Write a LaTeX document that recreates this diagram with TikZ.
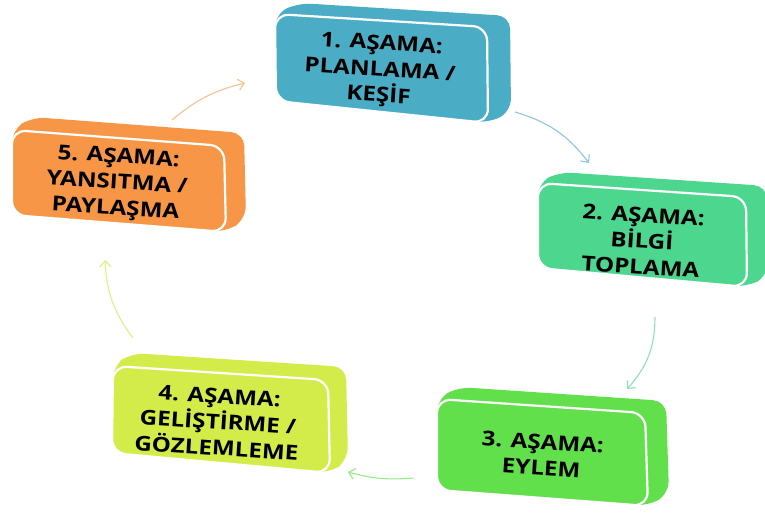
\documentclass[tikz,border=0pt]{standalone}
\usepackage{fontspec}
\setmainfont{Open Sans}
\usetikzlibrary{calc,arrows.meta}

\definecolor{cAqua}{RGB}{75,172,198}
\definecolor{cMint}{RGB}{76,214,142}
\definecolor{cLime}{RGB}{98,224,76}
\definecolor{cYell}{RGB}{212,236,74}
\definecolor{cOrng}{RGB}{247,150,70}

% Draws one extruded stage block: side faces behind, framed front face on top.
% #1 colour, #2..#5 front corners (TL, TR, BR, BL), #6 depth offset
\newcommand\stageblock[6]{%
  \fill[#1, rounded corners=13pt]
    (#2) -- ($(#2)+(#6)$) -- ($(#3)+(#6)$) -- ($(#4)+(#6)$) -- (#4) -- (#5) -- cycle;
  \filldraw[fill=#1, draw=white, line width=2.2pt, rounded corners=14pt]
    (#2) -- (#3) -- (#4) -- (#5) -- cycle;
}

\tikzset{
  stagetext/.style={align=center, text=black, inner sep=0pt,
    font=\fontsize{20.5}{26}\selectfont\bfseries, rotate=-3.6, xscale=1.18},
  cyclearrow/.style={line width=1.1pt,
    -{Straight Barb[length=6pt,width=11pt,line width=1.1pt]}},
}

\begin{document}
\begin{tikzpicture}[x=1pt,y=-1pt]
\useasboundingbox (0,0) rectangle (765,518);

% stage blocks
\stageblock{cAqua}{275,14}{487,27}{488,123}{276,101}{23,-11}
\stageblock{cMint}{538,183}{746,197}{747,287}{538,268}{21,-11}
\stageblock{cLime}{437,399}{645,413}{648,506}{437,490}{21,-12}
\stageblock{cYell}{113,366}{328,380}{330,473}{112,453}{18,-13}
\stageblock{cOrng}{12,130}{224,146}{226,232}{12,215}{20,-13}

% stage labels
\node[stagetext] (s1) at (380,71)  {1. AŞAMA:\\PLANLAMA /\\KEŞİF};
\node[stagetext] (s2) at (642,241) {2. AŞAMA:\\BİLGİ\\TOPLAMA};
\node[stagetext] (s3) at (542,455) {3. AŞAMA:\\EYLEM};
\node[stagetext] (s4) at (218,422) {4. AŞAMA:\\GELİŞTİRME /\\GÖZLEMLEME};
\node[stagetext] (s5) at (117,184) {5. AŞAMA:\\YANSITMA /\\PAYLAŞMA};

% arrow end points
\coordinate (a1) at (515,112); \coordinate (b1) at (589,163);
\coordinate (a2) at (655,317); \coordinate (b2) at (627,389);
\coordinate (a3) at (413,478); \coordinate (b3) at (348,472);
\coordinate (a4) at (133,338); \coordinate (b4) at (105,260);
\coordinate (a5) at (172,120); \coordinate (b5) at (245,83);

% cycle arrows
\draw[cyclearrow, color={rgb,255:red,140;green,200;blue,222}] (a1) to[bend left=18] (b1);
\draw[cyclearrow, color={rgb,255:red,140;green,226;blue,178}] (a2) to[bend left=21] (b2);
\draw[cyclearrow, color={rgb,255:red,150;green,234;blue,136}] (a3) to[bend left=10] (b3);
\draw[cyclearrow, color={rgb,255:red,220;green,242;blue,130}] (a4) to[bend left=17] (b4);
\draw[cyclearrow, color={rgb,255:red,250;green,192;blue,145}] (a5) to[bend left=13] (b5);
\end{tikzpicture}
\end{document}
